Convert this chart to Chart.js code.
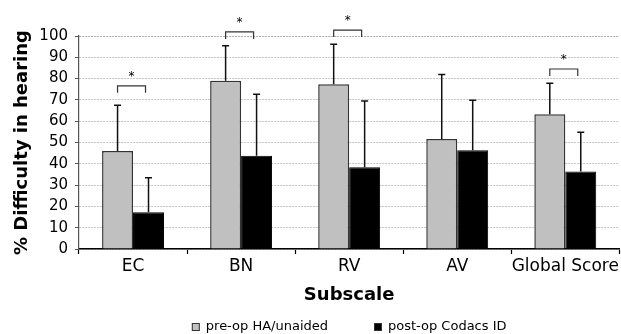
<!DOCTYPE html>
<html>
<head>
<meta charset="utf-8">
<script src="https://cdn.jsdelivr.net/npm/chart.js@4/dist/chart.umd.min.js"></script>
<style>
html, body { margin: 0; padding: 0; background: #fff; }
#wrap { width: 621px; height: 334px; }
</style>
</head>
<body>
<div id="wrap"><canvas id="grafico"></canvas></div>
<script>
// dados
const categorias = ['EC', 'BN', 'RV', 'AV', 'Global Score'];
const preOp = [46, 79, 77.3, 51.6, 63.3];
const postOp = [17.3, 43.8, 38.4, 46.4, 36.4];
const preOpDP = [21.5, 16.4, 18.8, 30.3, 14.5];
const postOpDP = [16.2, 28.8, 31.1, 23.4, 18.4];
const significativo = [true, true, true, false, true];
const nivelAsterisco = [76.6, 101.9, 102.8, null, 84.5];
const legendas = ['pre-op HA/unaided', 'post-op Codacs ID'];

const fonte = 'DejaVu Sans';

// barras de erro (só para cima) e colchetes com asterisco
const errosPlugin = {
    id: 'erros',
    afterDatasetsDraw(chart) {
        const ctx = chart.ctx;
        const y = chart.scales.y;
        const desvios = [preOpDP, postOpDP];
        ctx.save();
        ctx.strokeStyle = '#111';
        ctx.lineWidth = 1.5;
        chart.data.datasets.forEach((ds, i) => {
            chart.getDatasetMeta(i).data.forEach((bar, j) => {
                const topo = y.getPixelForValue(ds.data[j] + desvios[i][j]);
                ctx.beginPath();
                ctx.moveTo(bar.x, bar.y);
                ctx.lineTo(bar.x, topo);
                ctx.moveTo(bar.x - 3.5, topo);
                ctx.lineTo(bar.x + 3.5, topo);
                ctx.stroke();
            });
        });

        const cinza = chart.getDatasetMeta(0).data;
        const preto = chart.getDatasetMeta(1).data;
        ctx.lineWidth = 1.2;
        ctx.strokeStyle = '#333';
        ctx.fillStyle = '#000';
        ctx.font = '12px ' + fonte;
        ctx.textAlign = 'center';
        ctx.textBaseline = 'middle';
        significativo.forEach((sig, j) => {
            if (!sig) return;
            const yy = y.getPixelForValue(nivelAsterisco[j]);
            const x1 = cinza[j].x;
            const x2 = preto[j].x - 3;
            ctx.beginPath();
            ctx.moveTo(x1, yy + 7);
            ctx.lineTo(x1, yy);
            ctx.lineTo(x2, yy);
            ctx.lineTo(x2, yy + 7);
            ctx.stroke();
            ctx.fillText('*', (x1 + x2) / 2, yy - 9);
        });
        ctx.restore();
    }
};

// legenda desenhada à mão (espaçamento maior entre os itens)
const legendaPlugin = {
    id: 'legendaManual',
    afterDraw(chart) {
        const ctx = chart.ctx;
        const area = chart.chartArea;
        const cores = ['#c0c0c0', '#000'];
        ctx.save();
        ctx.font = '13px ' + fonte;
        ctx.textBaseline = 'middle';
        ctx.textAlign = 'left';
        const larguras = legendas.map(t => ctx.measureText(t).width);
        const espaco = 46;
        const total = larguras.reduce((a, b) => a + b, 0) + 2 * 14 + espaco;
        let x = (area.left + area.right) / 2 - total / 2;
        const yc = 327;
        legendas.forEach((t, i) => {
            ctx.fillStyle = cores[i];
            ctx.fillRect(x, yc - 4, 8, 8);
            ctx.strokeStyle = '#333';
            ctx.lineWidth = 1;
            ctx.strokeRect(x + 0.5, yc - 3.5, 7, 7);
            ctx.fillStyle = '#000';
            ctx.fillText(t, x + 14, yc);
            x += 14 + larguras[i] + espaco;
        });
        ctx.restore();
    }
};

const fundoBranco = {
    id: 'fundoBranco',
    beforeDraw(chart) {
        const ctx = chart.ctx;
        ctx.save();
        ctx.fillStyle = '#fff';
        ctx.fillRect(0, 0, chart.width, chart.height);
        ctx.restore();
    }
};

new Chart(document.getElementById('grafico'), {
    type: 'bar',
    data: {
        labels: categorias,
        datasets: [{
            label: legendas[0],
            data: preOp,
            backgroundColor: '#c0c0c0',
            borderColor: '#333',
            borderWidth: 1.5,
            borderSkipped: 'bottom'
        }, {
            label: legendas[1],
            data: postOp,
            backgroundColor: '#000',
            borderColor: '#000',
            borderWidth: 1,
            borderSkipped: 'bottom'
        }]
    },
    options: {
        responsive: true,
        maintainAspectRatio: false,
        animation: false,
        devicePixelRatio: 1,
        layout: { padding: { top: 36, right: 1, left: 0, bottom: 0 } },
        datasets: {
            bar: { categoryPercentage: 0.573, barPercentage: 1 }
        },
        plugins: {
            legend: { display: false },
            tooltip: { enabled: false }
        },
        scales: {
            x: {
                afterFit: s => { s.height = 85; },
                grid: {
                    display: true,
                    drawOnChartArea: false,
                    tickLength: 5,
                    tickColor: '#000',
                    tickWidth: 1.2
                },
                border: { color: '#000', width: 1.5 },
                ticks: {
                    color: '#000',
                    padding: 2,
                    minRotation: 0,
                    maxRotation: 0,
                    autoSkip: false,
                    font: { family: fonte, size: 17 }
                },
                title: {
                    display: true,
                    text: 'Subscale',
                    color: '#000',
                    font: { family: fonte, size: 18, weight: 'bold' },
                    padding: { top: 0, bottom: 28 }
                }
            },
            y: {
                min: 0,
                max: 100,
                afterFit: s => { s.width = 79; },
                grid: {
                    color: c => c.tick && c.tick.value === 100 ? '#aaa' : '#c4c4c4',
                    lineWidth: 1,
                    tickLength: 4,
                    tickColor: '#555',
                    tickBorderDash: []
                },
                border: { color: '#555', width: 1.2, dash: [2, 1] },
                ticks: {
                    stepSize: 10,
                    color: '#000',
                    padding: 7,
                    font: { family: fonte, size: 15 }
                },
                title: {
                    display: true,
                    text: '% Difficulty in hearing',
                    color: '#000',
                    font: { family: fonte, size: 18, weight: 'bold' },
                    padding: { top: 12, bottom: 0 }
                }
            }
        }
    },
    plugins: [fundoBranco, errosPlugin, legendaPlugin]
});
</script>
</body>
</html>
